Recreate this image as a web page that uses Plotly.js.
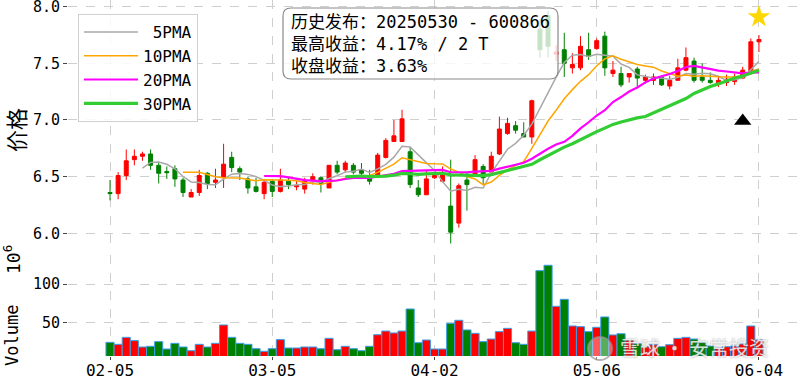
<!DOCTYPE html>
<html><head><meta charset="utf-8">
<script src="https://cdn.plot.ly/plotly-3.0.1.min.js"></script>
<style>html,body{margin:0;padding:0;background:#fff}#chart{width:800px;height:382px}</style>
</head><body><div id="chart"></div>
<script>
// ---- data ----
const tickIndex = [0, 20, 40, 60, 80];
const tickLabels = ['02-05', '03-05', '04-02', '05-06', '06-04'];
const openP = [6.36,6.35,6.51,6.65,6.68,6.70,6.60,6.545,6.57,6.47,6.32,6.36,6.53,6.45,6.49,6.67,6.57,6.48,6.41,6.35,
  6.46,6.37,6.46,6.41,6.39,6.47,6.49,6.40,6.60,6.56,6.60,6.56,6.50,6.50,6.67,6.81,6.81,6.72,6.40,6.34,
  6.49,6.46,6.24,6.09,6.47,6.52,6.59,6.54,6.70,6.88,6.95,6.88,6.85,7.80,7.92,7.58,7.62,7.46,7.46,7.62,
  7.63,7.74,7.41,7.41,7.38,7.45,7.35,7.35,7.38,7.30,7.35,7.44,7.52,7.38,7.35,7.32,7.33,7.34,7.37,7.41,7.69];
const highP = [6.47,6.54,6.74,6.74,6.72,6.74,6.63,6.59,6.60,6.49,6.39,6.56,6.54,6.57,6.79,6.72,6.59,6.50,6.49,6.48,
  6.48,6.57,6.49,6.46,6.49,6.53,6.50,6.60,6.64,6.64,6.62,6.62,6.56,6.71,6.84,7.00,7.09,6.76,6.47,6.56,
  6.54,6.59,6.65,6.44,6.54,6.69,6.61,6.72,7.03,7.02,6.99,6.98,7.18,7.89,7.96,7.66,7.77,7.59,7.74,7.77,
  7.72,7.78,7.52,7.47,7.41,7.47,7.40,7.41,7.38,7.39,7.54,7.64,7.55,7.50,7.42,7.39,7.40,7.41,7.47,7.72,7.75];
const lowP = [6.29,6.30,6.47,6.60,6.64,6.56,6.44,6.48,6.41,6.32,6.32,6.33,6.39,6.40,6.40,6.54,6.47,6.35,6.36,6.30,
  6.32,6.36,6.39,6.38,6.35,6.43,6.36,6.40,6.52,6.54,6.52,6.50,6.43,6.50,6.66,6.81,6.81,6.40,6.32,6.34,
  6.48,6.45,5.91,6.05,6.20,6.50,6.43,6.54,6.69,6.87,6.88,6.85,6.79,7.55,7.55,7.52,7.38,7.41,7.44,7.53,
  7.62,7.39,7.38,7.29,7.33,7.28,7.32,7.31,7.30,7.27,7.35,7.43,7.33,7.33,7.32,7.29,7.30,7.31,7.36,7.40,7.60];
const closeP = [6.35,6.51,6.64,6.68,6.70,6.60,6.53,6.535,6.48,6.36,6.36,6.51,6.44,6.47,6.61,6.58,6.54,6.40,6.37,6.45,
  6.37,6.47,6.43,6.42,6.46,6.50,6.44,6.60,6.54,6.62,6.54,6.53,6.46,6.69,6.82,6.86,7.01,6.43,6.34,6.48,
  6.51,6.52,6.01,6.42,6.43,6.65,6.49,6.68,6.92,6.97,6.91,6.85,7.17,7.62,7.65,7.60,7.50,7.49,7.65,7.56,
  7.70,7.46,7.44,7.31,7.41,7.37,7.38,7.38,7.31,7.35,7.46,7.55,7.35,7.35,7.33,7.35,7.36,7.38,7.44,7.69,7.71];
// volume in units of 10^6 shares
const volumeM = [24.3,21.7,30.8,26.5,18.2,19.1,25.2,15.6,23.0,18.2,13.4,21.7,18.2,23.0,46.9,30.8,23.0,21.7,16.0,12.6,
  16.0,27.8,16.9,16.9,18.2,18.2,16.0,29.5,14.7,19.1,16.0,13.4,19.1,34.2,39.0,36.5,39.0,67.7,23.8,27.3,
  15.6,15.6,49.0,53.0,40.4,36.0,25.2,28.6,38.2,42.5,23.8,21.7,39.0,117.6,124.6,71.2,80.3,45.6,44.7,38.2,
  43.9,57.3,33.9,35.5,27.3,22.5,18.6,21.2,18.6,21.2,29.5,30.8,28.6,24.3,19.5,16.5,18.6,19.5,22.1,45.6,27.3];
const maPeriods = [5, 10, 20, 30];
const maNames = ['\u00a05PMA', '10PMA', '20PMA', '30PMA'];
const signalIndex = [78], signalPrice = [6.99];   // black triangle
const peakIndex = [80], peakPrice = [7.91];       // gold star
const noteLines = ['历史发布：20250530 - 600866', '最高收益：4.17% / 2 T', '收盘收益：3.63%'];
const yLabel = '价格', volLabel = 'Volume', volExp = '10<sup>6</sup>';
const watermark = '雪球 · 安常投资';

// ---- build ----
const idx = closeP.map((_, i) => i);
function rolling(arr, n) { return arr.map((_, i) => i < n - 1 ? null : arr.slice(i - n + 1, i + 1).reduce((a, b) => a + b, 0) / n); }
const UP = '#ff0000', DN = '#008000';
const volColors = closeP.map((c, i) => c >= openP[i] ? UP : DN);
const maColors = ['#a8a8a8', '#ffa500', '#ff00ff', '#32cd32'];
const maWidths = [1.5, 1.5, 2.2, 3.2];
const MONO = '"DejaVu Sans Mono", "Noto Sans CJK SC", monospace';
const CJK = '"Noto Sans CJK SC", sans-serif';

const traces = [];
traces.push({type: 'candlestick', x: idx, open: openP, high: highP, low: lowP, close: closeP, xaxis: 'x', yaxis: 'y',
  increasing: {line: {color: UP, width: 1}, fillcolor: UP}, decreasing: {line: {color: DN, width: 1}, fillcolor: DN},
  whiskerwidth: 0, showlegend: false, hoverinfo: 'skip'});
maPeriods.forEach((n, k) => traces.push({type: 'scatter', mode: 'lines', x: idx, y: rolling(closeP, n), name: maNames[k],
  line: {color: maColors[k], width: maWidths[k]}, xaxis: 'x', yaxis: 'y', hoverinfo: 'skip'}));
traces.push({type: 'scatter', mode: 'markers', x: signalIndex, y: signalPrice, marker: {symbol: 'triangle-up', size: 15, color: '#000'}, showlegend: false, xaxis: 'x', yaxis: 'y'});
traces.push({type: 'scatter', mode: 'markers', x: peakIndex, y: peakPrice, marker: {symbol: 'star', size: 17, color: '#ffd700'}, showlegend: false, xaxis: 'x', yaxis: 'y'});
traces.push({type: 'bar', x: idx, y: volumeM, width: 1, marker: {color: volColors, line: {color: '#3a9ee8', width: 1}}, showlegend: false, xaxis: 'x', yaxis: 'y2', hoverinfo: 'skip'});

// pixel -> paper helpers (plot area 68..800 x 0..356)
const L = 68, W = 732, H = 356;
const px = v => (v - L) / W, py = v => (H - v) / H;
function roundRect(x0, y0, x1, y1, r) {
  const P = (x, y) => px(x) + ',' + py(y);
  return 'M' + P(x0 + r, y0) + 'L' + P(x1 - r, y0) + 'Q' + P(x1, y0) + ' ' + P(x1, y0 + r) +
    'L' + P(x1, y1 - r) + 'Q' + P(x1, y1) + ' ' + P(x1 - r, y1) + 'L' + P(x0 + r, y1) +
    'Q' + P(x0, y1) + ' ' + P(x0, y1 - r) + 'L' + P(x0, y0 + r) + 'Q' + P(x0, y0) + ' ' + P(x0 + r, y0) + 'Z';
}
const grid = {showgrid: true, gridcolor: '#cfcfcf', griddash: 'dash', gridwidth: 1, zeroline: false, showline: false};
const layout = {
  width: 800, height: 382, margin: {l: L, r: 0, t: 0, b: 26}, paper_bgcolor: '#fff', plot_bgcolor: '#fff',
  showlegend: true, hovermode: false, boxgap: 0.3,
  xaxis: Object.assign({}, grid, {range: [-5.18, 85.06], anchor: 'y2', tickvals: tickIndex, ticktext: tickLabels,
    ticks: 'outside', ticklen: 3, ticklabelstandoff: -3, tickcolor: '#444', tickfont: {family: MONO, size: 16, color: '#000'},
    ticklabeloverflow: 'allow', rangeslider: {visible: false}}),
  yaxis: Object.assign({}, grid, {domain: [(H - 250) / H, 1], range: [5.8526, 8.059], anchor: 'x', tickvals: [6, 6.5, 7, 7.5, 8],
    tickformat: '.1f', ticks: 'outside', ticklen: 4, tickcolor: '#444', ticklabeloverflow: 'allow', tickfont: {family: MONO, size: 15, color: '#000'}}),
  yaxis2: Object.assign({}, grid, {domain: [0, (H - 255) / H], range: [6.5, 138], anchor: 'x', tickvals: [50, 100],
    ticks: 'outside', ticklen: 4, tickcolor: '#444', ticklabeloverflow: 'allow', tickfont: {family: MONO, size: 15, color: '#000'}}),
  legend: {x: px(78), y: py(14), xanchor: 'left', yanchor: 'top', bgcolor: 'rgba(255,255,255,0.85)', bordercolor: '#d0d0d0', borderwidth: 1,
    font: {family: MONO, size: 16, color: '#000'}, itemwidth: 54, tracegroupgap: 0},
  shapes: [
    {type: 'path', xref: 'paper', yref: 'paper', path: roundRect(283, 8, 558, 79, 8), fillcolor: 'rgba(255,255,255,0.78)', line: {color: '#8a8a8a', width: 1.2}, layer: 'above'},
    {type: 'circle', xref: 'paper', yref: 'paper', x0: px(588), x1: px(612), y0: py(360), y1: py(337), fillcolor: 'rgba(255,255,255,0.35)', line: {color: 'rgba(150,150,150,0.7)', width: 2}, layer: 'above'}
  ],
  annotations: [
    {xref: 'paper', yref: 'paper', x: px(289), y: py(10), xanchor: 'left', yanchor: 'top', align: 'left', showarrow: false,
      text: noteLines.join('<br>'), font: {family: MONO, size: 17, color: '#000'}},
    {xref: 'paper', yref: 'paper', x: px(15), y: py(130), xanchor: 'center', yanchor: 'middle', textangle: -90, showarrow: false,
      text: yLabel, font: {family: CJK, size: 22, color: '#000'}},
    {xref: 'paper', yref: 'paper', x: px(12), y: py(336), xanchor: 'center', yanchor: 'middle', textangle: -90, showarrow: false,
      text: volLabel, font: {family: MONO, size: 17, color: '#000'}},
    {xref: 'paper', yref: 'paper', x: px(12), y: py(260), xanchor: 'center', yanchor: 'middle', textangle: -90, showarrow: false,
      text: volExp, font: {family: MONO, size: 18, color: '#000'}},
    {xref: 'paper', yref: 'paper', x: px(694), y: py(347), xanchor: 'center', yanchor: 'middle', showarrow: false,
      text: watermark, font: {family: CJK, size: 20, color: 'rgba(255,255,255,0.8)', shadow: '0px 0px 2px rgba(110,110,110,0.9)'}}
  ]
};
Plotly.newPlot('chart', traces, layout, {staticPlot: true, displayModeBar: false});
</script></body></html>
